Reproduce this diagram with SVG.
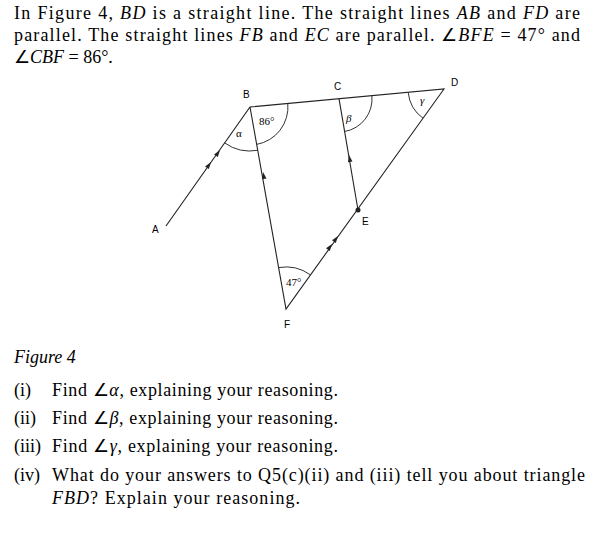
<svg xmlns="http://www.w3.org/2000/svg" width="605" height="534" viewBox="0 0 605 534">
<style>
.t{font-family:"Liberation Serif",serif;font-size:18px;fill:#000}
.i{font-style:italic}
.l{font-family:"Liberation Sans",Arial,sans-serif;font-size:10px;fill:#000}
.g{font-family:"Liberation Serif",serif;font-size:11px;fill:#000}
.ln{stroke:#222;stroke-width:1.1;fill:none}
.arc{stroke:#333;stroke-width:1;fill:none}
</style>
<defs><path id="ar" d="M0,0 L-7,-2.3 L-7,2.3Z" fill="#222"/></defs>
<rect width="605" height="534" fill="#fff"/>
<text class="t" x="14" y="19" textLength="566" lengthAdjust="spacing">In Figure 4, <tspan class="i">BD</tspan> is a straight line. The straight lines <tspan class="i">AB</tspan> and <tspan class="i">FD</tspan> are</text>
<text class="t" x="14" y="41" textLength="566" lengthAdjust="spacing">parallel. The straight lines <tspan class="i">FB</tspan> and <tspan class="i">EC</tspan> are parallel. ∠<tspan class="i">BFE</tspan> = 47° and</text>
<text class="t" x="14" y="63">∠<tspan class="i">CBF</tspan> = 86°.</text>
<g id="connectors">
<path class="ln" d="M166,226 L250,107 L444,89 L286,309 L250,107"/>
<path class="ln" d="M339,98.7 L358,210"/>
<use href="#ar" transform="translate(211,162) rotate(-54.8)"/>
<use href="#ar" transform="translate(220,150) rotate(-54.8)"/>
<use href="#ar" transform="translate(263,172) rotate(-100.1)"/>
<use href="#ar" transform="translate(349,155) rotate(-99.7)"/>
<use href="#ar" transform="translate(332,244) rotate(-54.3)"/>
<use href="#ar" transform="translate(338,236) rotate(-54.3)"/>
</g>
<g id="arcs">
<path class="arc" d="M224.6,142.9 A44,44 0 0 0 257.7,150.3"/>
<path class="arc" d="M287.8,103.5 A38,38 0 0 1 256.6,144.4"/>
<path class="arc" d="M371.9,95.9 A33,33 0 0 1 344.6,131.5"/>
<path class="arc" d="M408.2,92.3 A36,36 0 0 0 423,118.2"/>
<path class="arc" d="M278.6,267.6 A42,42 0 0 1 310.5,274.9"/>
</g>
<g id="A"><text class="l" x="152" y="233">A</text></g>
<g id="B"><text class="l" x="243" y="98">B</text></g>
<g id="C"><text class="l" x="334" y="90">C</text></g>
<g id="D"><text class="l" x="451" y="86">D</text></g>
<g id="E"><circle cx="358" cy="210" r="2.5" fill="#222"/><text class="l" x="362" y="225">E</text></g>
<g id="F"><text class="l" x="284" y="328">F</text></g>
<text class="g" x="236" y="137">α</text>
<text class="g" x="259" y="125">86°</text>
<text class="g i" x="346" y="122">β</text>
<text class="g i" x="420" y="104">γ</text>
<text class="g" x="286" y="286">47°</text>
<text class="t i" x="14" y="363">Figure 4</text>
<text class="t" x="14" y="396">(i)</text>
<text class="t" x="52" y="396" textLength="286" lengthAdjust="spacing">Find ∠<tspan class="i">α</tspan>, explaining your reasoning.</text>
<text class="t" x="14" y="424">(ii)</text>
<text class="t" x="52" y="424" textLength="286" lengthAdjust="spacing">Find ∠<tspan class="i">β</tspan>, explaining your reasoning.</text>
<text class="t" x="14" y="452">(iii)</text>
<text class="t" x="52" y="452" textLength="286" lengthAdjust="spacing">Find ∠<tspan class="i">γ</tspan>, explaining your reasoning.</text>
<text class="t" x="14" y="481">(iv)</text>
<text class="t" x="52" y="481" textLength="533" lengthAdjust="spacing">What do your answers to Q5(c)(ii) and (iii) tell you about triangle</text>
<text class="t" x="52" y="504" textLength="248" lengthAdjust="spacing"><tspan class="i">FBD</tspan>? Explain your reasoning.</text>
</svg>
